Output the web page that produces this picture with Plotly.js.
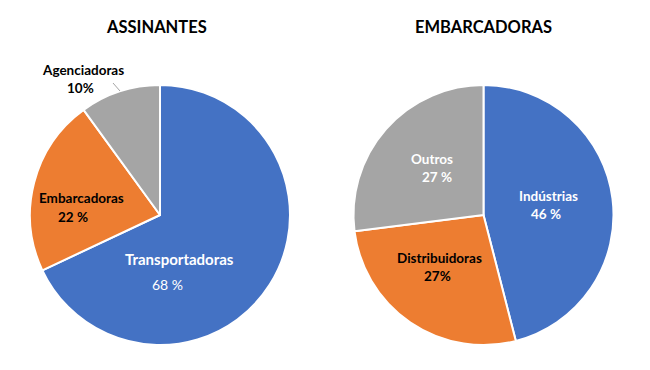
<!DOCTYPE html>
<html>
<head>
<meta charset="utf-8">
<script src="https://cdn.plot.ly/plotly-3.0.1.min.js"></script>
<style>html,body{margin:0;padding:0;background:#fff;}#chart{width:650px;height:370px;}</style>
</head>
<body>
<div id="chart"></div>
<script>
// Data
const titles = ["ASSINANTES", "EMBARCADORAS"];
const assinantesLabels = ["Transportadoras", "Embarcadoras", "Agenciadoras"];
const assinantesValues = [68, 22, 10];
const assinantesPctText = ["68 %", "22 %", "10%"];
const embarcadorasLabels = ["Indústrias", "Distribuidoras", "Outros"];
const embarcadorasValues = [46, 27, 27];
const embarcadorasPctText = ["46 %", "27%", "27 %"];
const sliceColors = ["#4472C4", "#ED7D31", "#A5A5A5"];

const W = 650, H = 370;
const px = x => x / W;
const py = y => 1 - y / H;
const FONT = "Lato, 'Liberation Sans', Arial, sans-serif";

function pieTrace(labels, values, domainX) {
  return {
    type: "pie",
    labels: labels,
    values: values,
    sort: false,
    direction: "clockwise",
    rotation: 0,
    textinfo: "none",
    hoverinfo: "label+percent",
    marker: {colors: sliceColors, line: {color: "#ffffff", width: 2}},
    domain: {x: domainX, y: [py(345), py(85)]},
    showlegend: false
  };
}

const data = [
  pieTrace(assinantesLabels, assinantesValues, [px(30), px(290)]),
  pieTrace(embarcadorasLabels, embarcadorasValues, [px(353), px(614)])
];

// label placement (layout only): [nameX, nameY, pctX, pctY, color, nameSize, pctBold]
const leftPos = [[179, 259, 167, 284, "#ffffff", 15, false], [81, 198, 73, 217, "#000000", 13.5, true], [83, 70, 80, 88, "#000000", 13.5, true]];
const rightPos = [[548, 196, 546, 214, "#ffffff", 13.5, true], [439, 258, 437, 276, "#000000", 13.5, true], [432, 159, 437, 177, "#ffffff", 13.5, true]];

const annotations = [];
function addAnn(text, x, y, color, size, bold) {
  annotations.push({
    text: bold ? "<b>" + text + "</b>" : text, x: px(x), y: py(y), xref: "paper", yref: "paper",
    xanchor: "center", yanchor: "middle", showarrow: false,
    font: {family: FONT, size: size, color: color}
  });
}
addAnn(titles[0], 156, 27, "#000000", 16.5, true);
addAnn(titles[1], 484, 27, "#000000", 16.5, true);
assinantesLabels.forEach((l, i) => {
  const p = leftPos[i];
  addAnn(l, p[0], p[1], p[4], p[5], true);
  addAnn(assinantesPctText[i], p[2], p[3], p[4], p[6] ? 13.5 : 14, p[6]);
});
embarcadorasLabels.forEach((l, i) => {
  const p = rightPos[i];
  addAnn(l, p[0], p[1], p[4], p[5], true);
  addAnn(embarcadorasPctText[i], p[2], p[3], p[4], 13.5, p[6]);
});

const layout = {
  width: W, height: H,
  margin: {l: 0, r: 0, t: 0, b: 0},
  paper_bgcolor: "#ffffff",
  annotations: annotations,
  shapes: [{type: "line", xref: "paper", yref: "paper", x0: px(113), y0: py(83), x1: px(120), y1: py(91),
            line: {color: "#A5A5A5", width: 1}}]
};

Plotly.newPlot("chart", data, layout, {displayModeBar: false, staticPlot: true});
</script>
</body>
</html>
